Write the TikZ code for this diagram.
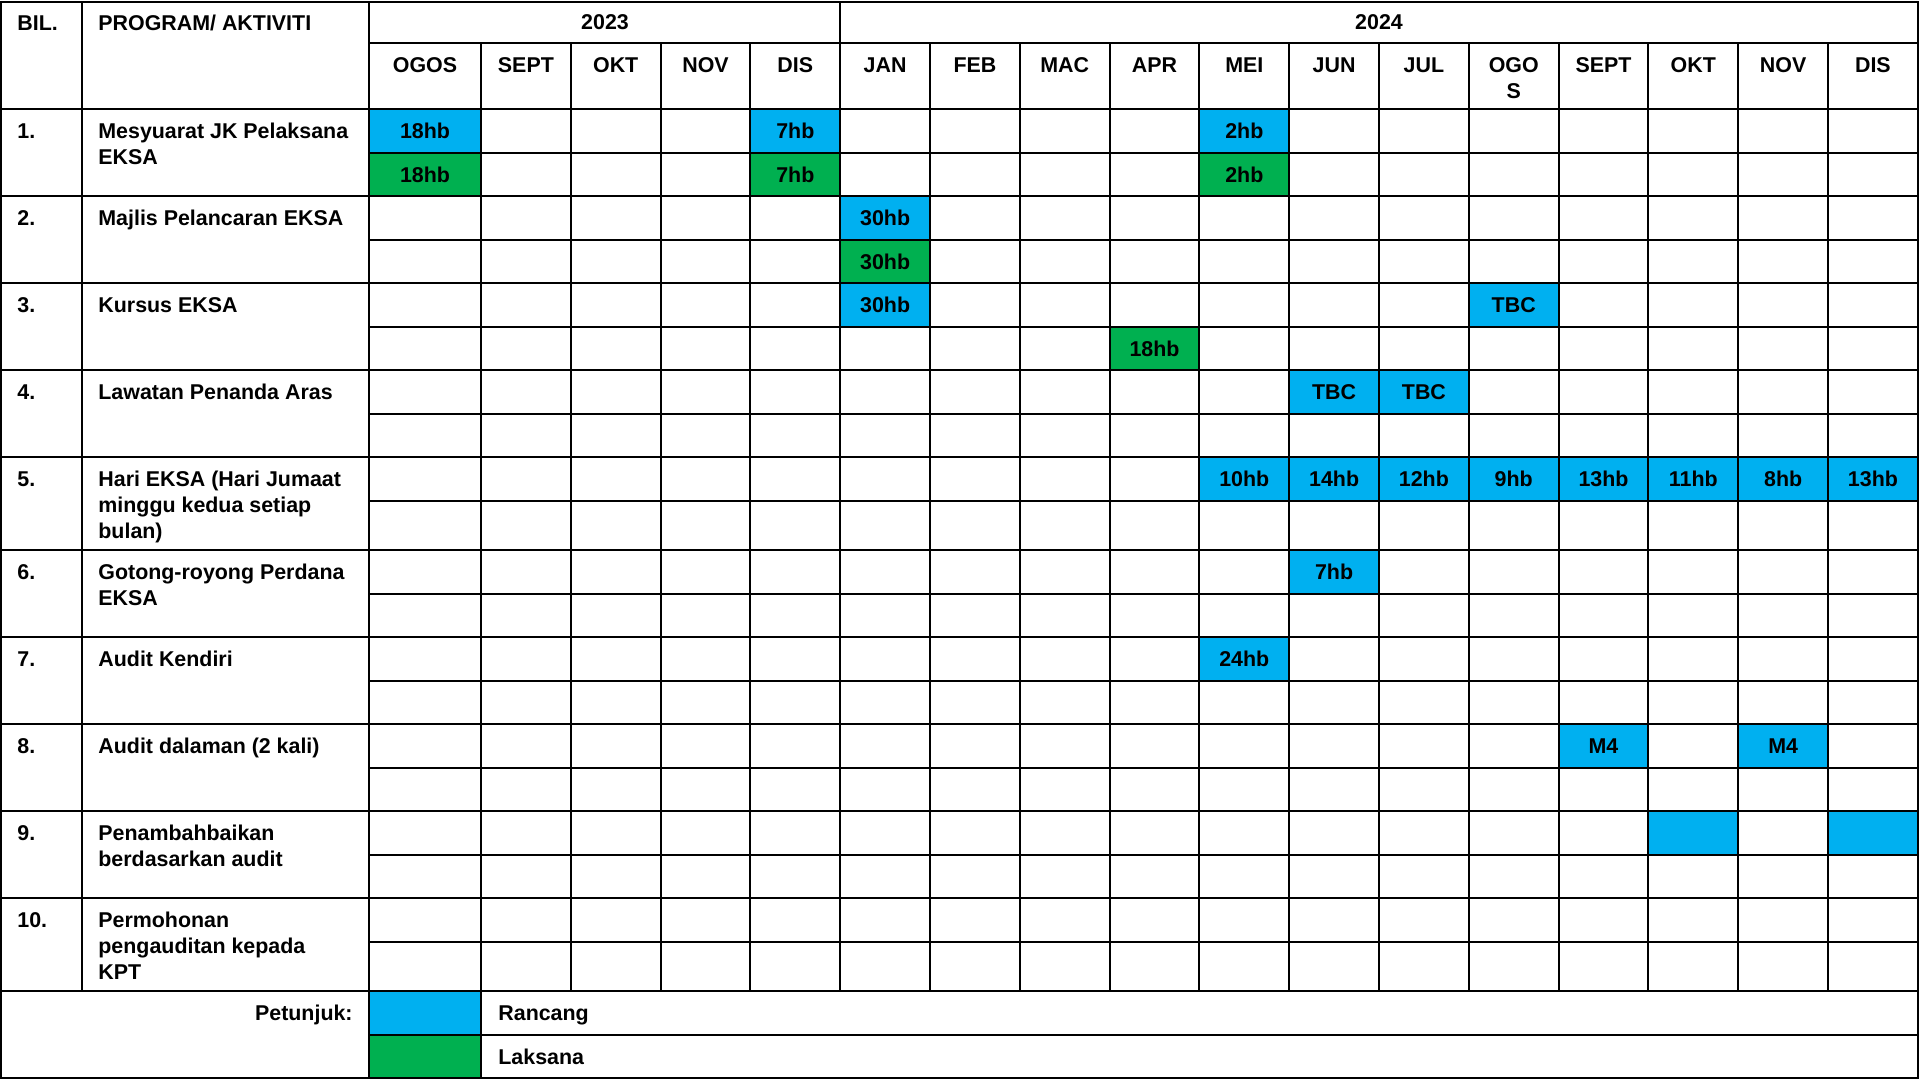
\documentclass[tikz,border=0pt]{standalone}
\usepackage{fontspec}
\setmainfont{Liberation Sans}
\usepackage{xcolor}
\usepackage{tikz}
\usetikzlibrary{calc}
\definecolor{rancangblue}{HTML}{00B0F0}
\definecolor{laksanagreen}{HTML}{00B050}
\tikzset{
  tablefont/.style={font=\fontsize{10.7}{13}\selectfont\bfseries},
  celllabel/.style={tablefont, inner sep=0pt, anchor=center},
  headlabel/.style={tablefont, inner sep=0pt, anchor=base},
  rowlabel/.style={tablefont, inner sep=0pt, anchor=base west},
  gridrule/.style={black, line width=1pt},
}
% lines stacked under a first baseline
\newcommand{\leftlines}[1]{\begin{tabular}[t]{@{}l@{}}#1\end{tabular}}
\newcommand{\midlines}[1]{\begin{tabular}[t]{@{}c@{}}#1\end{tabular}}
% top edge of each activity row, legend row last
\def\rowtop{{109,196,283,370,457,550,637,724,811,898,991}}

\begin{document}
\begin{tikzpicture}[x=0.5pt, y=-0.5pt]
    \useasboundingbox (0,0) rectangle (1920,1082);
    % Rancang cells (upper half of each row)
    \foreach \c/\r/\t in {0/1/18hb, 4/1/7hb, 9/1/2hb, 5/2/30hb, 5/3/30hb, 12/3/TBC,
        10/4/TBC, 11/4/TBC, 9/5/10hb, 10/5/14hb, 11/5/12hb, 12/5/9hb, 13/5/13hb,
        14/5/11hb, 15/5/8hb, 16/5/13hb, 10/6/7hb, 9/7/24hb, 13/8/M4, 15/8/M4,
        14/9/{}, 16/9/{}} {
      \pgfmathsetmacro{\xl}{\c==0 ? 369 : 481+(\c-1)*89.8}
      \pgfmathsetmacro{\xr}{481+\c*89.8}
      \pgfmathsetmacro{\yt}{\rowtop[\r-1]}
      \fill[rancangblue] (\xl,\yt) rectangle (\xr,\yt+44);
      \node[celllabel] (plan-\c-\r) at ({(\xl+\xr)/2},\yt+22) {\t};
    }
    % Laksana cells (lower half of each row)
    \foreach \c/\r/\t in {0/1/18hb, 4/1/7hb, 9/1/2hb, 5/2/30hb, 8/3/18hb} {
      \pgfmathsetmacro{\xl}{\c==0 ? 369 : 481+(\c-1)*89.8}
      \pgfmathsetmacro{\xr}{481+\c*89.8}
      \pgfmathsetmacro{\yt}{\rowtop[\r-1]}
      \pgfmathsetmacro{\yb}{\rowtop[\r]}
      \fill[laksanagreen] (\xl,\yt+44) rectangle (\xr,\yb);
      \node[celllabel] (done-\c-\r) at ({(\xl+\xr)/2},{(\yt+44+\yb)/2}) {\t};
    }
    % Legend swatches
    \fill[rancangblue] (369,991) rectangle (481,1035);
    \fill[laksanagreen] (369,1035) rectangle (481,1078);

    % Grid
    \draw[gridrule] (1,2) rectangle (1918,1078);
    \draw[gridrule] (369,43) -- (1918,43);
    \foreach \r in {0,...,10} {
      \pgfmathsetmacro{\yt}{\rowtop[\r]}
      \draw[gridrule] (1,\yt) -- (1918,\yt);
      \draw[gridrule] (369,\yt+44) -- (1918,\yt+44);
    }
    \draw[gridrule] (82,2) -- (82,991);
    \draw[gridrule] (369,2) -- (369,1078);
    \draw[gridrule] (481,43) -- (481,1078);
    \draw[gridrule] (840.2,2) -- (840.2,43);
    \foreach \k in {2,...,16} {
      \draw[gridrule] ({481+(\k-1)*89.8},43) -- ({481+(\k-1)*89.8},991);
    }

    % Header texts
    \node[rowlabel] (bil) at (17,30) {BIL.};
    \node[rowlabel] (program) at (98,30) {PROGRAM/ AKTIVITI};
    \node[headlabel] (year-a) at (605,29) {2023};
    \node[headlabel] (year-b) at (1379,29) {2024};
    \foreach \c/\m in {0/OGOS, 1/SEPT, 2/OKT, 3/NOV, 4/DIS, 5/JAN, 6/FEB, 7/MAC,
        8/APR, 9/MEI, 10/JUN, 11/JUL, 12/{OGO\\S}, 13/SEPT, 14/OKT, 15/NOV, 16/DIS} {
      \pgfmathsetmacro{\xl}{\c==0 ? 369 : 481+(\c-1)*89.8}
      \pgfmathsetmacro{\xr}{481+\c*89.8}
      \node[headlabel] (month-\c) at ({(\xl+\xr)/2},72) {\midlines{\m}};
    }

    % Activities
    \foreach \r/\n/\txt in {1/1./{Mesyuarat JK Pelaksana\\EKSA},
        2/2./{Majlis Pelancaran EKSA}, 3/3./{Kursus EKSA},
        4/4./{Lawatan Penanda Aras},
        5/5./{Hari EKSA (Hari Jumaat\\minggu kedua setiap\\bulan)},
        6/6./{Gotong-royong Perdana\\EKSA}, 7/7./{Audit Kendiri},
        8/8./{Audit dalaman (2 kali)},
        9/9./{Penambahbaikan\\berdasarkan audit},
        10/10./{Permohonan\\pengauditan kepada\\KPT}} {
      \pgfmathsetmacro{\yt}{\rowtop[\r-1]}
      \node[rowlabel] (no-\r) at (17,\yt+29) {\n};
      \node[rowlabel] (act-\r) at (98,\yt+29) {\leftlines{\txt}};
    }

    % Legend
    \node[rowlabel, anchor=base east] (petunjuk) at (353,1020) {Petunjuk:};
    \node[rowlabel] (rancang) at (498,1020) {Rancang};
    \node[rowlabel] (laksana) at (498,1064) {Laksana};
\end{tikzpicture}
\end{document}
